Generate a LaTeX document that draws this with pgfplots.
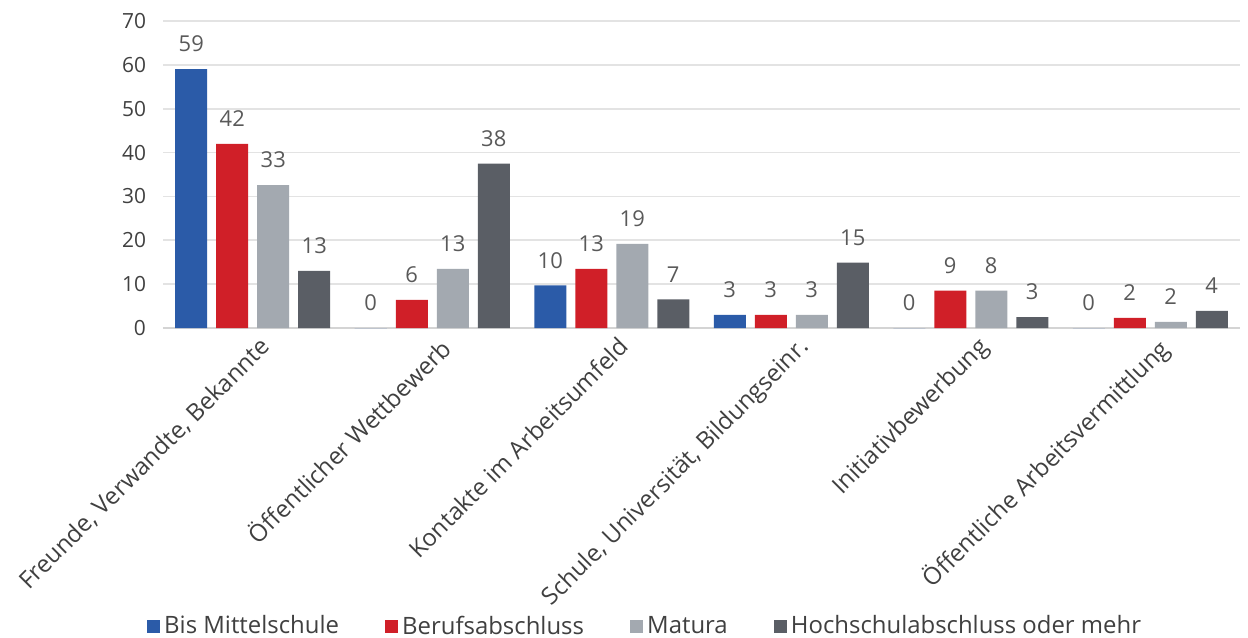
\documentclass[border=0pt]{standalone}
\usepackage{fontspec}
\setmainfont{Open Sans}
\usepackage{pgfplots}
\pgfplotsset{compat=1.18}
\definecolor{cA}{HTML}{2B5BA8}
\definecolor{cB}{HTML}{D01F28}
\definecolor{cC}{HTML}{A3A9B0}
\definecolor{cD}{HTML}{5A5E65}
\definecolor{txt}{HTML}{404040}
\definecolor{lbl}{HTML}{595959}
\definecolor{grid}{HTML}{E3E3E3}
\begin{document}
\begin{tikzpicture}
\begin{axis}[
  scale only axis,
  width=538.5bp, height=153.5bp,
  ymin=0, ymax=70, ytick={0,10,...,70},
  xmin=-0.5, xmax=5.5,
  xtick={0,1,2,3,4,5},
  xticklabels={{Freunde, Verwandte, Bekannte}, {Öffentlicher Wettbewerb}, {Kontakte im Arbeitsumfeld}, {Schule, Universität, Bildungseinr.}, {Initiativbewerbung}, {Öffentliche Arbeitsvermittlung}},
  x tick label style={rotate=45, anchor=north east, font=\fontsize{12}{14}\selectfont, text=txt, inner sep=1bp, xshift=0.5bp, yshift=-3.5bp},
  y tick label style={font=\fontsize{10.5}{12}\selectfont, text=txt, xshift=-5bp},
  /pgf/number format/assume math mode=true,
  major tick length=0pt,
  separate axis lines,
  axis x line*=bottom,
  axis y line*=left,
  x axis line style={draw=grid!85!gray, line width=1bp, -},
  y axis line style={draw=none},
  ymajorgrids, xmajorgrids=false, grid style={draw=grid, line width=0.8bp},
  ybar=4.5bp, bar width=16bp,
  point meta=explicit symbolic,
  nodes near coords,
  every node near coord/.append style={font=\fontsize{11}{13}\selectfont, text=lbl, yshift=5bp},
  legend style={at={(0.4485,-0.972)}, anchor=center, draw=none, legend columns=4,
    font=\fontsize{12}{14}\selectfont, text=txt,
    nodes={inner xsep=2bp},
    /tikz/every even column/.append style={column sep=21bp}},
  legend image code/.code={\fill[#1] (0bp,-3.3bp) rectangle (6.6bp,3.3bp);},
]
\addplot[fill=cA, draw=none] coordinates {(0,59)[59] (1,0)[0] (2,9.7)[10] (3,3)[3] (4,0)[0] (5,0)[0]};
\addplot[fill=cB, draw=none] coordinates {(0,42)[42] (1,6.4)[6] (2,13.5)[13] (3,3)[3] (4,8.5)[9] (5,2.3)[2]};
\addplot[fill=cC, draw=none] coordinates {(0,32.6)[33] (1,13.5)[13] (2,19.2)[19] (3,3)[3] (4,8.5)[8] (5,1.4)[2]};
\addplot[fill=cD, draw=none] coordinates {(0,13)[13] (1,37.5)[38] (2,6.5)[7] (3,14.9)[15] (4,2.5)[3] (5,3.9)[4]};
\legend{Bis Mittelschule, Berufsabschluss, Matura, Hochschulabschluss oder mehr}
\end{axis}
\pgfresetboundingbox
\path ([xshift=-81.5bp,yshift=-155bp]current axis.south west) rectangle ([xshift=4bp,yshift=10.5bp]current axis.north east);
\end{tikzpicture}
\end{document}
